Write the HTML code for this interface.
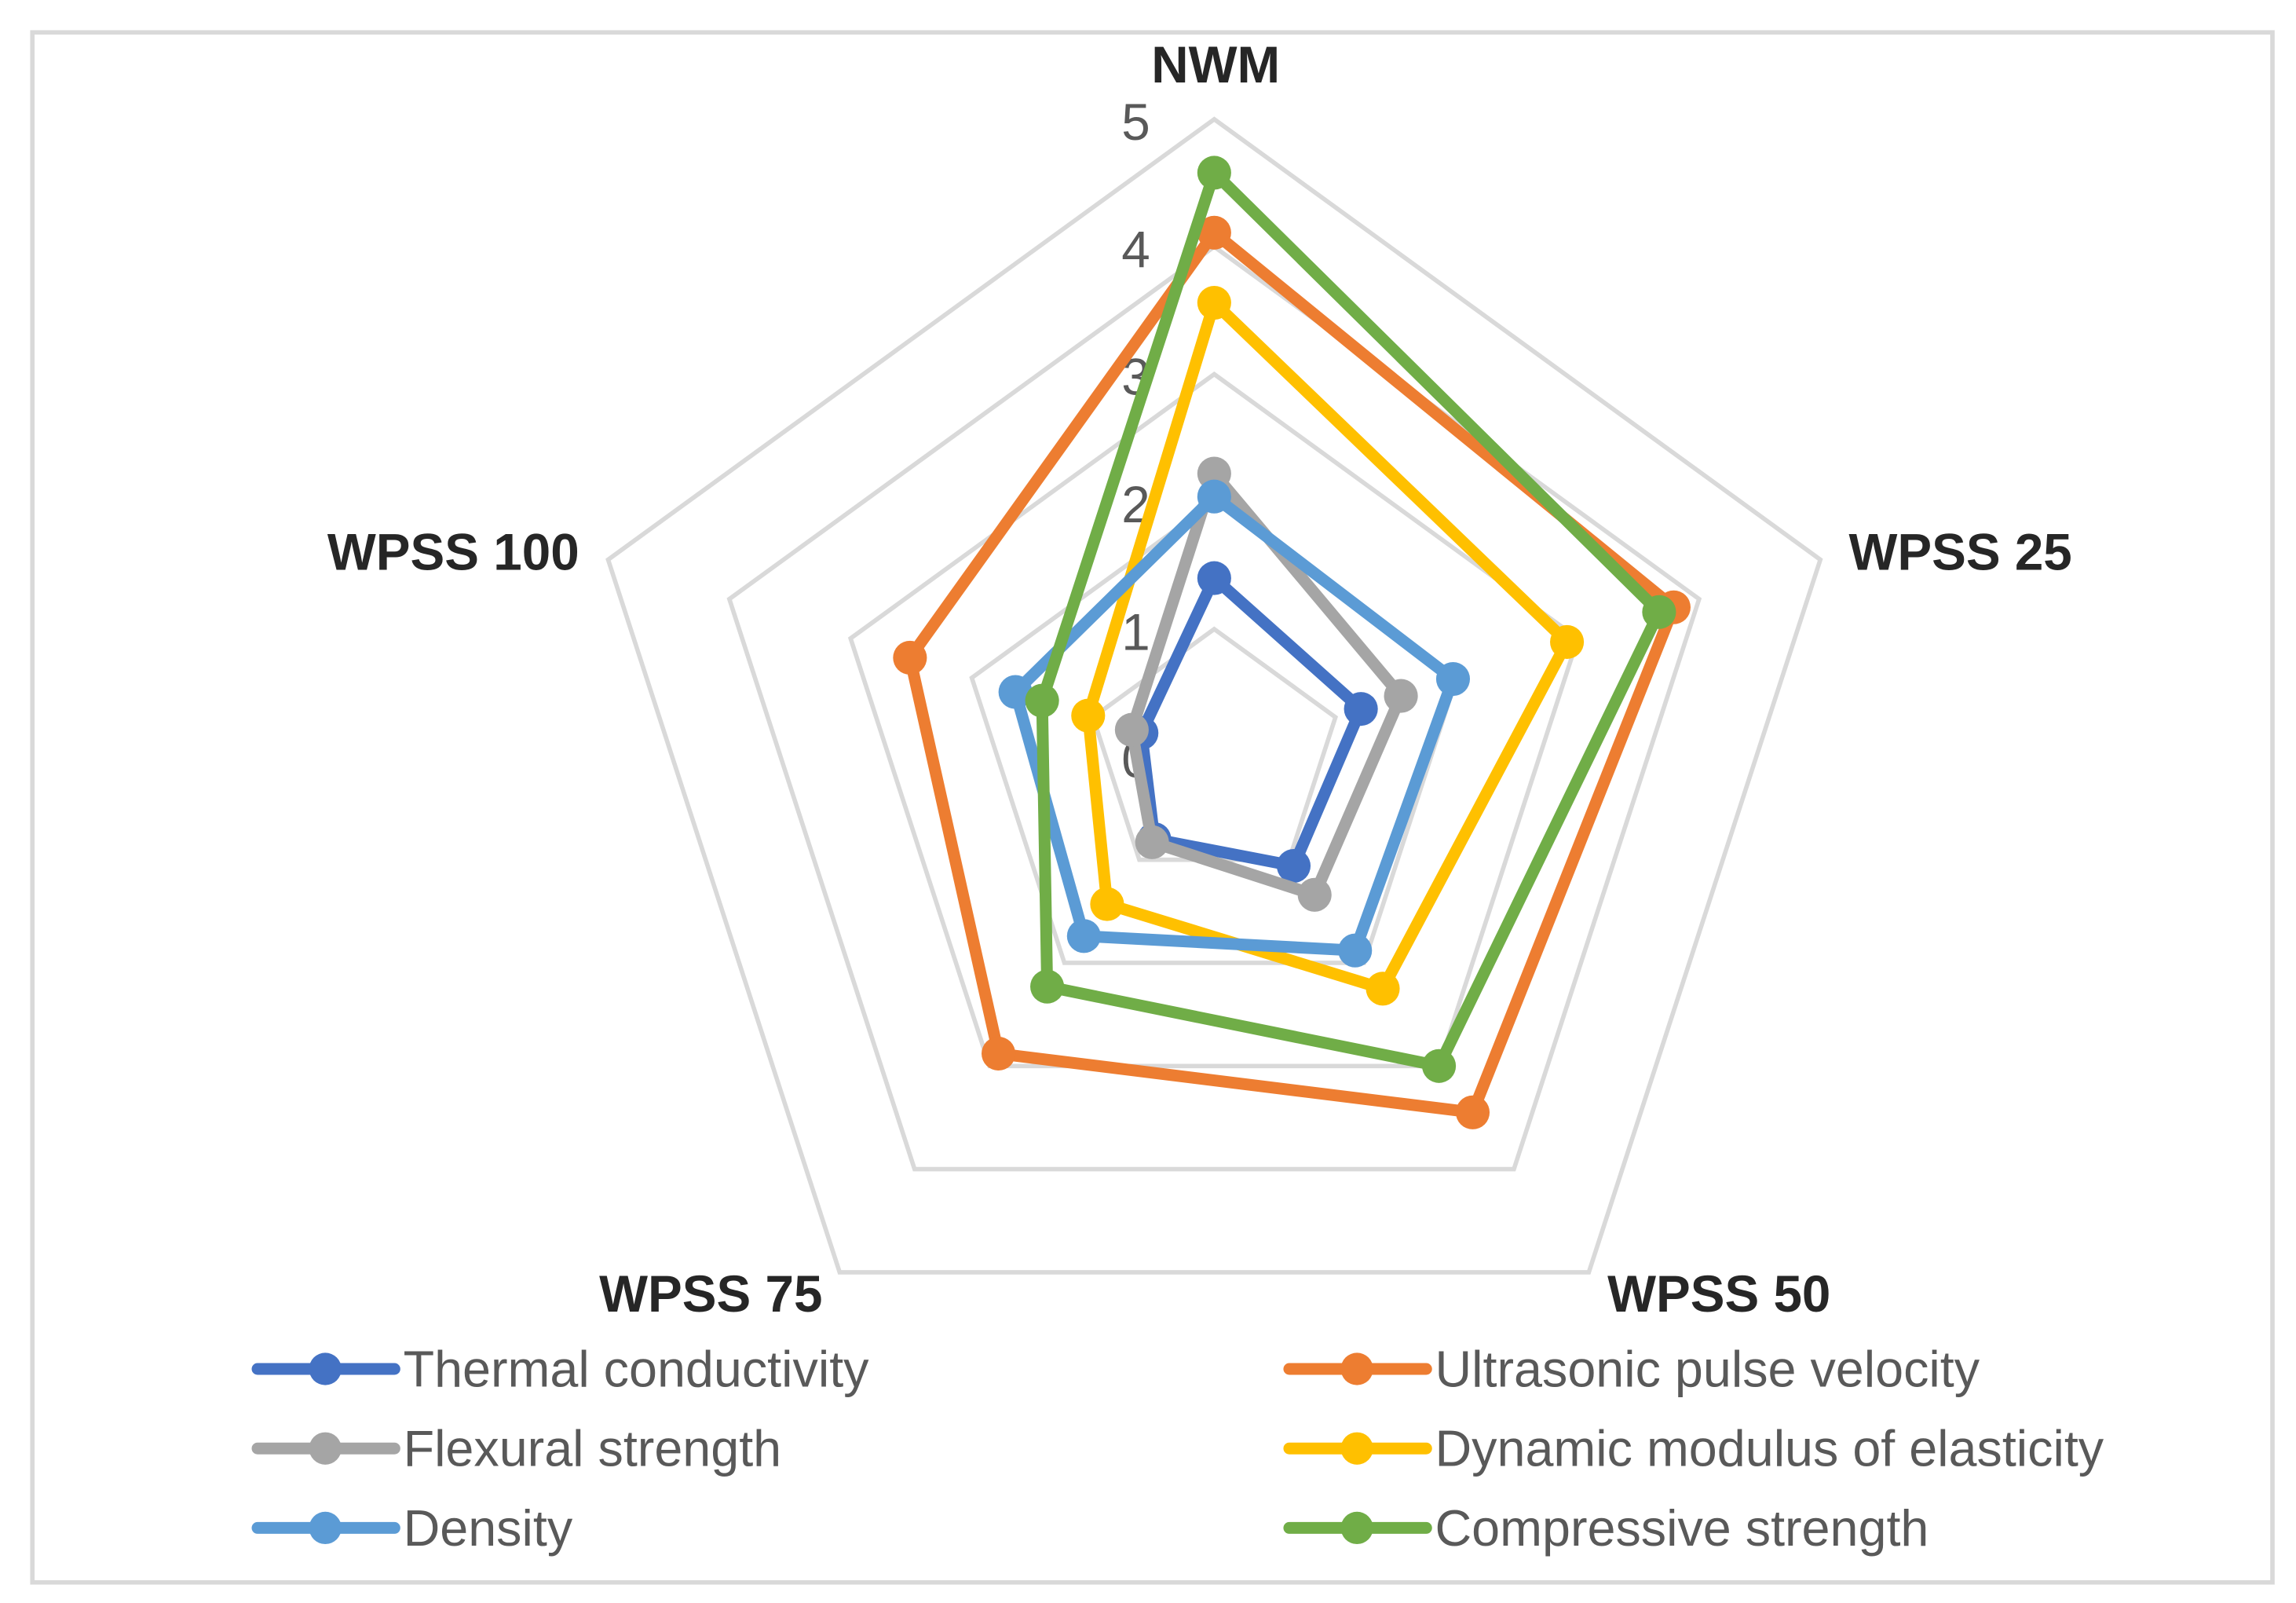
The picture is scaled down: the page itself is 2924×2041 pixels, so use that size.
<!DOCTYPE html>
<html><head><meta charset="utf-8"><style>
html,body{margin:0;padding:0;background:#fff}
svg{display:block}
text{font-family:"Liberation Sans",sans-serif}
</style></head><body>
<svg id="chart" width="2924" height="2041" viewBox="0 0 1560 1089" preserveAspectRatio="none" xmlns="http://www.w3.org/2000/svg">
<rect x="22" y="22" width="1522" height="1053" fill="#fff" stroke="#d9d9d9" stroke-width="3"/>
<g id="grid"></g>
<g id="ticks"></g>
<g id="cats"></g>
<g id="series"></g>
<g id="legend"></g>
</svg>
<script>
const categories = ["NWM","WPSS 25","WPSS 50","WPSS 75","WPSS 100"];
const tickLabels = [0,1,2,3,4,5];
const seriesNames = ["Thermal conductivity","Ultrasonic pulse velocity","Flexural strength","Dynamic modulus of elasticity","Density","Compressive strength"];
const thermal = [1.40,1.21,1.06,0.80,0.60];
const upv = [4.11,3.79,3.45,2.88,2.51];
const flexural = [2.22,1.54,1.34,0.83,0.68];
const dynamic = [3.56,2.91,2.25,1.43,1.04];
const density = [2.04,1.97,1.88,1.74,1.64];
const compressive = [4.58,3.67,3.00,2.23,1.42];
const seriesColors = ["#4472C4","#ED7D31","#A5A5A5","#FFC000","#5B9BD5","#70AD47"];
const seriesData = [thermal,upv,flexural,dynamic,density,compressive];

const NS="http://www.w3.org/2000/svg";
const cx=825, cy=514, R=433, maxV=5;
function ang(i){return -Math.PI/2 + i*2*Math.PI/categories.length;}
function px(i,v){return cx + Math.cos(ang(i))*R*v/maxV;}
function py(i,v){return cy + Math.sin(ang(i))*R*v/maxV;}
function mk(tag,attrs,parent){const e=document.createElementNS(NS,tag);for(const k in attrs)e.setAttribute(k,attrs[k]);parent.appendChild(e);return e;}

const grid=document.getElementById('grid');
tickLabels.slice(1).forEach(t=>{
  const pts=categories.map((c,i)=>px(i,t)+','+py(i,t)).join(' ');
  const g=mk('polygon',{points:pts,fill:'none',stroke:'#d9d9d9','stroke-width':3},grid);
  
  
});
const ticks=document.getElementById('ticks');
tickLabels.forEach(t=>{
  const e=mk('text',{x:cx-63,y:py(0,t)+14,'font-size':35,fill:'#595959'},ticks);
  e.textContent=t;
  
  
});
const cats=document.getElementById('cats');
const catPos=[[826,56,'middle'],[1332,387,'middle'],[1168,891,'middle'],[483,891,'middle'],[308,387,'middle']];
categories.forEach((c,i)=>{
  const e=mk('text',{x:catPos[i][0],y:catPos[i][1],'font-size':35,'font-weight':'bold',fill:'#262626','text-anchor':catPos[i][2]},cats);
  e.textContent=c;
  
  
});
const sg=document.getElementById('series');
seriesData.forEach((d,s)=>{
  const g=mk('g',{},sg);
  
  
  const pts=d.map((v,i)=>px(i,v)+','+py(i,v)).join(' ');
  const pl=mk('polygon',{points:pts,fill:'none',stroke:seriesColors[s],'stroke-width':8,'stroke-linejoin':'round'},g);
  
  
  d.forEach((v,i)=>{
    const c=mk('circle',{cx:px(i,v),cy:py(i,v),r:11.5,fill:seriesColors[s]},g);
    
    
  });
});
const lg=document.getElementById('legend');
seriesNames.forEach((n,s)=>{
  const col=s%2, row=Math.floor(s/2);
  const x0=col?876:175, y=930+row*54;
  const g=mk('g',{},lg);
  
  
  mk('line',{x1:x0,y1:y,x2:x0+93,y2:y,stroke:seriesColors[s],'stroke-width':8,'stroke-linecap':'round'},g);
  mk('circle',{cx:x0+46,cy:y,r:11,fill:seriesColors[s]},g);
  const t=mk('text',{x:x0+99,y:y+12,'font-size':34.5,fill:'#595959'},g);
  t.textContent=n;
});
</script>
</body></html>
